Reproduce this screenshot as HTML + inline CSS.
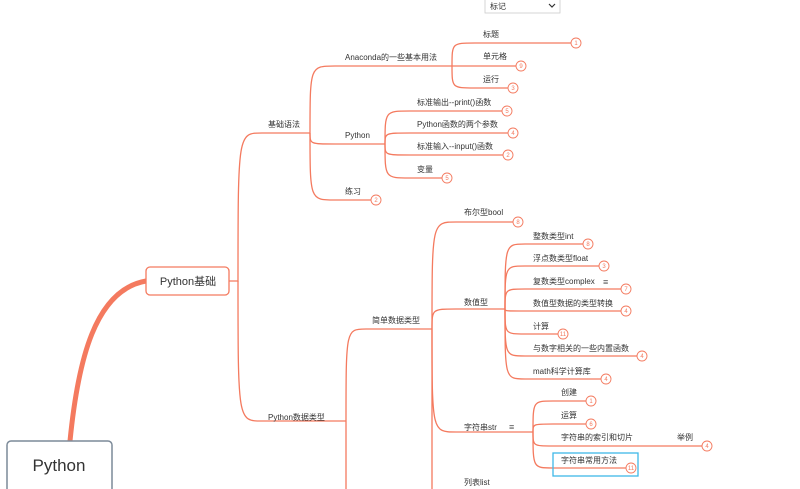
<!DOCTYPE html>
<html><head><meta charset="utf-8"><style>
html,body{margin:0;padding:0;background:#fff;width:800px;height:489px;overflow:hidden}
svg{display:block}
text{font-family:"Liberation Sans","Noto Sans CJK SC",sans-serif;fill:#333;font-size:8px}
.l{fill:none;stroke:#f47a5f;stroke-width:1.3}
.c{fill:#fff;stroke:#f47a5f;stroke-width:0.9}
.n{font-size:6px;fill:#f47a5f;text-anchor:middle}
</style></head><body>
<svg width="800" height="489" viewBox="0 0 800 489">
<!-- root -->
<path d="M70,441 C78,360 95,290 146,281" fill="none" stroke="#f47a5f" stroke-width="5"/>
<rect x="7" y="441" width="105" height="52" rx="4" fill="#fff" stroke="#7c8a99" stroke-width="1.5"/>
<text x="59" y="471" style="font-size:17px;fill:#333" text-anchor="middle">Python</text>
<rect x="146" y="267" width="83" height="28" rx="4" fill="#fff" stroke="#f47a5f" stroke-width="1.3"/>
<text x="188" y="285" style="font-size:11px;fill:#333" text-anchor="middle">Python基础</text>

<!-- level 1 -->
<path class="l" d="M229,281 L238,281 C238,133 238,133 262,133 L310,133"/>
<path class="l" d="M238,281 C238,421 238,421 262,421 L346,421"/>
<text x="268" y="127">基础语法</text>
<text x="268" y="420">Python数据类型</text>

<!-- 基础语法 children -->
<path class="l" d="M310,133 C310,66 310,66 335,66 L452,66"/>
<path class="l" d="M310,133 C310,144 310,144 335,144 L385,144"/>
<path class="l" d="M310,133 C310,200 310,200 335,200 L371,200"/>
<text x="345" y="60">Anaconda的一些基本用法</text>
<text x="345" y="138">Python</text>
<text x="345" y="194">练习</text>
<circle class="c" cx="376" cy="200" r="5"/><text class="n" x="376" y="202">2</text>

<!-- Anaconda children -->
<path class="l" d="M452,66 C452,43 452,43 475,43 L571,43"/>
<path class="l" d="M452,66 L516,66"/>
<path class="l" d="M452,66 C452,88 452,88 475,88 L508,88"/>
<text x="483" y="37">标题</text><text x="483" y="59">单元格</text><text x="483" y="82">运行</text>
<circle class="c" cx="576" cy="43" r="5"/><text class="n" x="576" y="45">1</text>
<circle class="c" cx="521" cy="66" r="5"/><text class="n" x="521" y="68">9</text>
<circle class="c" cx="513" cy="88" r="5"/><text class="n" x="513" y="90">3</text>

<!-- Python children -->
<path class="l" d="M385,144 C385,111 385,111 410,111 L502,111"/>
<path class="l" d="M385,144 C385,133 385,133 410,133 L508,133"/>
<path class="l" d="M385,144 C385,155 385,155 410,155 L503,155"/>
<path class="l" d="M385,144 C385,178 385,178 410,178 L442,178"/>
<text x="417" y="105">标准输出--print()函数</text>
<text x="417" y="127">Python函数的两个参数</text>
<text x="417" y="149">标准输入--input()函数</text>
<text x="417" y="172">变量</text>
<circle class="c" cx="507" cy="111" r="5"/><text class="n" x="507" y="113">5</text>
<circle class="c" cx="513" cy="133" r="5"/><text class="n" x="513" y="135">4</text>
<circle class="c" cx="508" cy="155" r="5"/><text class="n" x="508" y="157">2</text>
<circle class="c" cx="447" cy="178" r="5"/><text class="n" x="447" y="180">5</text>

<!-- Python数据类型 children -->
<path class="l" d="M346,421 C346,329 346,329 366,329 L432,329"/>
<path class="l" d="M346,421 L346,489"/>
<text x="372" y="323">简单数据类型</text>

<!-- 简单数据类型 children -->
<path class="l" d="M432,329 C432,222 432,222 456,222 L513,222"/>
<path class="l" d="M432,329 C432,309 432,309 456,309 L505,309"/>
<path class="l" d="M432,329 C432,432 432,432 456,432 L533,432"/>
<path class="l" d="M432,329 L432,489"/>
<text x="464" y="215">布尔型bool</text>
<text x="464" y="305">数值型</text>
<text x="464" y="430">字符串str</text>
<text x="509" y="430" style="font-size:9px;fill:#555">≡</text>
<text x="464" y="485">列表list</text>
<circle class="c" cx="518" cy="222" r="5"/><text class="n" x="518" y="224">8</text>

<!-- 数值型 children -->
<path class="l" d="M505,309 C505,244 505,244 525,244 L583,244"/>
<path class="l" d="M505,309 C505,266 505,266 525,266 L599,266"/>
<path class="l" d="M505,309 C505,289 505,289 525,289 L621,289"/>
<path class="l" d="M505,309 C505,311 505,311 525,311 L621,311"/>
<path class="l" d="M505,309 C505,334 505,334 525,334 L558,334"/>
<path class="l" d="M505,309 C505,356 505,356 525,356 L637,356"/>
<path class="l" d="M505,309 C505,379 505,379 525,379 L601,379"/>
<text x="533" y="239">整数类型int</text>
<text x="533" y="261">浮点数类型float</text>
<text x="533" y="284">复数类型complex</text>
<text x="603" y="285" style="font-size:9px;fill:#555">≡</text>
<text x="533" y="306">数值型数据的类型转换</text>
<text x="533" y="329">计算</text>
<text x="533" y="351">与数字相关的一些内置函数</text>
<text x="533" y="374">math科学计算库</text>
<circle class="c" cx="588" cy="244" r="5"/><text class="n" x="588" y="246">8</text>
<circle class="c" cx="604" cy="266" r="5"/><text class="n" x="604" y="268">3</text>
<circle class="c" cx="626" cy="289" r="5"/><text class="n" x="626" y="291">7</text>
<circle class="c" cx="626" cy="311" r="5"/><text class="n" x="626" y="313">4</text>
<circle class="c" cx="563" cy="334" r="5"/><text class="n" x="563" y="336">11</text>
<circle class="c" cx="642" cy="356" r="5"/><text class="n" x="642" y="358">4</text>
<circle class="c" cx="606" cy="379" r="5"/><text class="n" x="606" y="381">4</text>

<!-- 字符串 children -->
<path class="l" d="M533,432 C533,401 533,401 553,401 L586,401"/>
<path class="l" d="M533,432 C533,424 533,424 553,424 L586,424"/>
<path class="l" d="M533,432 C533,446 533,446 553,446 L702,446"/>
<path class="l" d="M533,432 C533,468 533,468 553,468 L626,468"/>
<text x="561" y="395">创建</text>
<text x="561" y="418">运算</text>
<text x="561" y="440">字符串的索引和切片</text>
<text x="677" y="440">举例</text>
<rect x="553" y="453" width="85" height="23" fill="none" stroke="#3fb8e8" stroke-width="1.3"/>
<text x="561" y="463">字符串常用方法</text>
<circle class="c" cx="591" cy="401" r="5"/><text class="n" x="591" y="403">1</text>
<circle class="c" cx="591" cy="424" r="5"/><text class="n" x="591" y="426">6</text>
<circle class="c" cx="707" cy="446" r="5"/><text class="n" x="707" y="448">4</text>
<circle class="c" cx="631" cy="468" r="5"/><text class="n" x="631" y="470">11</text>

<!-- dropdown -->
<rect x="480" y="0" width="84" height="16" fill="#fff"/>
<rect x="485" y="-1" width="75" height="14" fill="#fff" stroke="#ccc" stroke-width="0.8"/>
<text x="490" y="9">标记</text>
<path d="M549,4 L552,7 L555,4" fill="none" stroke="#333" stroke-width="1.2"/>
</svg>
</body></html>
